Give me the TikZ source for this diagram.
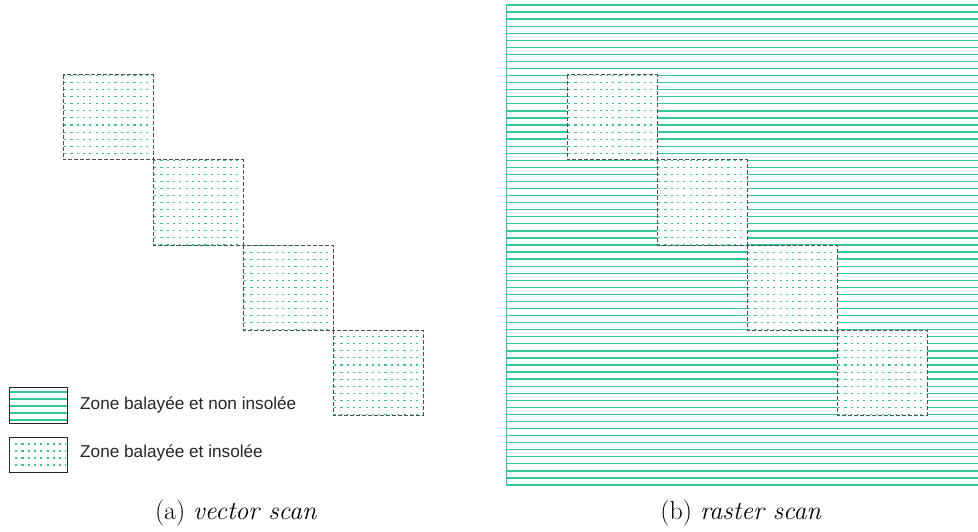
\documentclass[tikz,border=0pt]{standalone}
\usepackage{fontspec}
\newfontfamily\legfont{Liberation Sans}
\definecolor{teal1}{RGB}{51,201,150}
\definecolor{framegray}{RGB}{80,80,80}
\tikzset{
  rast/.style={draw=teal1, line width=1.3pt},
  dotline/.style={draw=teal1, line width=1.1pt, dash pattern=on 2.2pt off 4.1pt},
  sqframe/.style={draw=framegray, line width=1pt, dash pattern=on 4pt off 2pt},
  legbox/.style={draw=black!85, line width=0.9pt},
  legtext/.style={anchor=west, inner sep=0pt, font=\legfont\fontsize{17.2}{20}\selectfont, text=black!85},
  captext/.style={inner sep=0pt, font=\fontsize{26}{31}\selectfont}
}
\begin{document}
\begin{tikzpicture}[x=1pt,y=-1pt]
\useasboundingbox (0,0) rectangle (978,532);
% raster lines (b)
\foreach \k in {0,...,68} {
  \draw[rast] (506,{5+\k*7.0588}) -- (978,{5+\k*7.0588});
}
\draw[teal1, line width=1pt] (506,5) -- (506,485);
% squares
\foreach \i in {0,1,2,3} {
  \pgfmathsetmacro\xa{63+90*\i}
  \pgfmathsetmacro\xb{567+90*\i}
  \pgfmathsetmacro\ya{75+85*\i}
  % vector scan square
  \begin{scope}
    \clip (\xa+1,\ya) rectangle ++(88,85);
    \foreach \k in {0,...,68} {
      \draw[dotline] (\xa+1,{5+\k*7.0588}) -- ++(90,0);
    }
  \end{scope}
  \draw[sqframe] (\xa,\ya) rectangle ++(90,85);
  % raster scan square
  \fill[white] (\xb,\ya) rectangle ++(90,85);
  \begin{scope}
    \clip (\xb+1,\ya) rectangle ++(88,85);
    \foreach \k in {0,...,68} {
      \draw[dotline] (\xb+1,{5+\k*7.0588}) -- ++(90,0);
    }
  \end{scope}
  \draw[sqframe] (\xb,\ya) rectangle ++(90,85);
}
% legend
\foreach \y in {392,399,406,413,420} {
  \draw[rast] (9,\y) -- (67,\y);
}
\draw[legbox] (9,387) rectangle (67,423);
\foreach \y in {444,451,458,465} {
  \draw[dotline] (15,\y) -- (66,\y);
}
\draw[legbox] (9,437) rectangle (67,472);
\node[legtext] (leg1) at (80,405) {Zone balayée et non insolée};
\node[legtext] (leg2) at (80,453) {Zone balayée et insolée};
% captions
\node[captext] (capa) at (236,513) {(a)\ \textit{vector scan}};
\node[captext] (capb) at (741,513) {(b)\ \textit{raster scan}};
\end{tikzpicture}
\end{document}
